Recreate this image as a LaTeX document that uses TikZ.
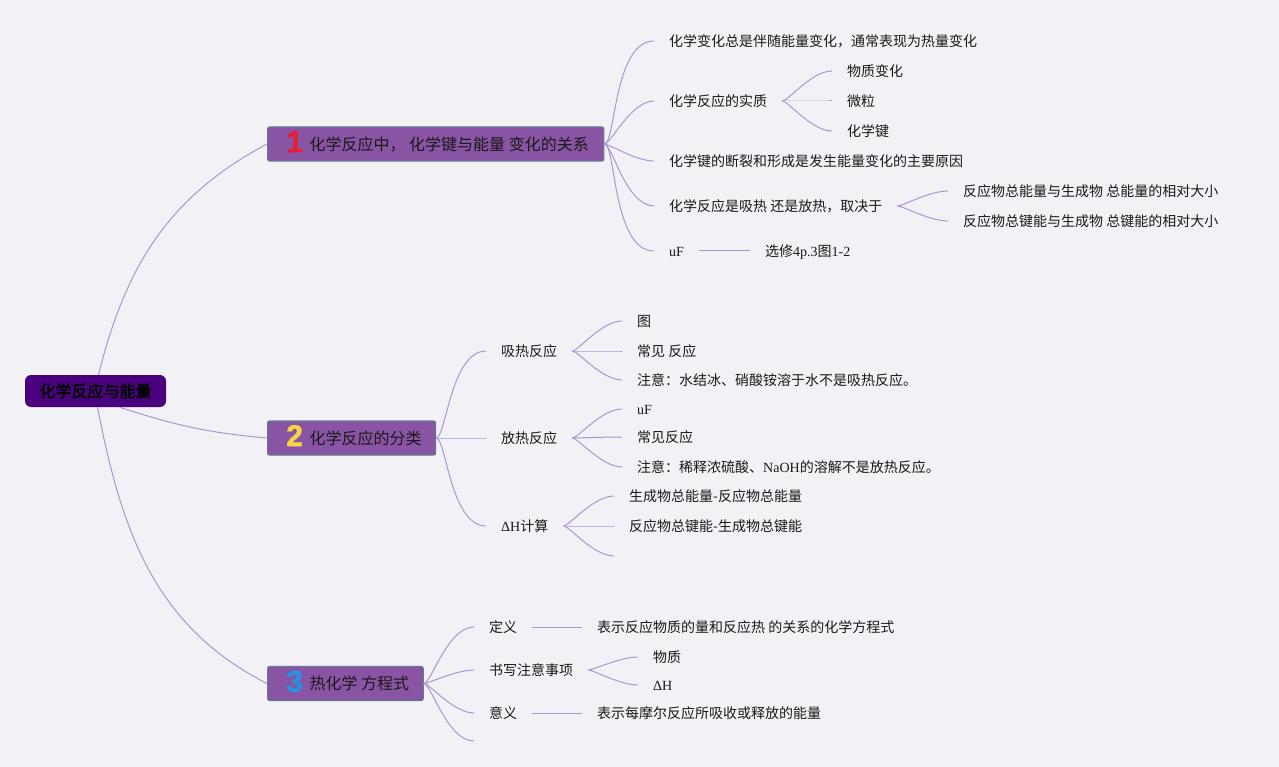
\documentclass[tikz,border=0pt]{standalone}
\usepackage{xcolor}
\usepackage{fontspec}
\setmainfont{Noto Sans CJK SC}[AutoFakeBold=2.5]
\newfontfamily\serifen{Liberation Serif}
\newfontfamily\numfont{Liberation Sans}[FakeBold=1.5]
\usepackage{tikz}

\definecolor{bgC}{RGB}{242,241,245}
\definecolor{rootC}{RGB}{75,0,125}
\definecolor{branchC}{RGB}{137,84,164}
\definecolor{borderC}{RGB}{105,118,145}
\definecolor{lineC}{RGB}{172,150,208}
\definecolor{txtC}{RGB}{25,25,25}
\definecolor{oneC}{RGB}{230,30,55}
\definecolor{twoC}{RGB}{245,215,70}
\definecolor{threeC}{RGB}{40,145,225}

\newcommand{\bnum}[2]{\hspace*{19pt}\makebox[16pt][c]{\raisebox{-2pt}{\numfont\bfseries\fontsize{30}{30}\selectfont\color{#1}#2}}\hspace*{7pt}}

\begin{document}
\begin{tikzpicture}[
      x=1pt, y=1pt,
      root/.style={rectangle, rounded corners=6pt, fill=rootC, minimum width=141pt, minimum height=32pt, inner sep=0pt, font=\fontsize{16}{18}\selectfont\bfseries, text=black, text height=13pt, text depth=0.8pt},
      branch/.style={rectangle, rounded corners=2pt, draw=borderC, line width=1.2pt, fill=branchC, minimum height=34pt, inner sep=0pt, anchor=west, font=\fontsize{16}{18}\selectfont, text=txtC, text height=13pt, text depth=0.8pt},
      leaf/.style={anchor=west, inner xsep=15pt, inner ysep=0pt, font=\fontsize{14}{16}\selectfont, text=txtC, text height=11.8pt, text depth=1.2pt},
      trunk/.style={draw=lineC, line width=1pt},
      link/.style={draw=lineC, line width=1pt, out=0, in=180, out looseness=0.25, in looseness=0.9}
    ]
      \useasboundingbox (0,0) rectangle (1279,-767);
      \fill[bgC] (0,0) rectangle (1279,-767);

      \node[root] (root) at (95.5,-391) {化学反应与能量};
      \node[branch] (rel) at (267,-144) {\bnum{oneC}{1}化学反应中， 化学键与能量 变化的关系\hspace*{15pt}};
      \node[branch] (cls) at (267,-438) {\bnum{twoC}{2}化学反应的分类\hspace*{14pt}};
      \node[branch] (eqn) at (267,-683.5) {\bnum{threeC}{3}热化学 方程式\hspace*{14pt}};

      % 1 化学反应中的能量关系
      \node[leaf] (always) at (654,-41) {化学变化总是伴随能量变化，通常表现为热量变化};
      \node[leaf] (essence) at (654,-101) {化学反应的实质};
      \node[leaf] (matter) at (832,-71) {物质变化};
      \node[leaf] (particle) at (832,-101) {微粒};
      \node[leaf] (bond) at (832,-131) {化学键};
      \node[leaf] (cause) at (654,-161) {化学键的断裂和形成是发生能量变化的主要原因};
      \node[leaf] (depend) at (654,-206) {化学反应是吸热 还是放热，取决于};
      \node[leaf] (etot) at (948,-191) {反应物总能量与生成物 总能量的相对大小};
      \node[leaf] (btot) at (948,-221) {反应物总键能与生成物 总键能的相对大小};
      \node[leaf] (uf1) at (654,-251) {\serifen uF};
      \node[leaf] (fig) at (750,-251) {选修{\serifen 4p.3}图{\serifen 1-2}};

      % 2 分类
      \node[leaf] (endo) at (486,-351) {吸热反应};
      \node[leaf] (endofig) at (622,-321) {图};
      \node[leaf] (endocom) at (622,-351) {常见 反应};
      \node[leaf] (endonote) at (622,-380) {注意：水结冰、硝酸铵溶于水不是吸热反应。};
      \node[leaf] (exo) at (486,-438) {放热反应};
      \node[leaf] (uf2) at (622,-409) {\serifen uF};
      \node[leaf] (exocom) at (622,-437) {常见反应};
      \node[leaf] (exonote) at (622,-467) {注意：稀释浓硫酸、{\serifen NaOH}的溶解不是放热反应。};
      \node[leaf] (dh) at (486,-526) {{\serifen ΔH}计算};
      \node[leaf] (dhe) at (614,-496) {生成物总能量-反应物总能量};
      \node[leaf] (dhb) at (614,-526) {反应物总键能-生成物总键能};
      \coordinate (dhx) at (614,-556);

      % 3 热化学方程式
      \node[leaf] (def) at (474,-627) {定义};
      \node[leaf] (deftxt) at (582,-627) {表示反应物质的量和反应热 的关系的化学方程式};
      \node[leaf] (write) at (474,-670) {书写注意事项};
      \node[leaf] (state) at (638,-657) {物质};
      \node[leaf] (wdh) at (638,-685) {\serifen ΔH};
      \node[leaf] (mean) at (474,-713) {意义};
      \node[leaf] (meantxt) at (582,-713) {表示每摩尔反应所吸收或释放的能量};
      \coordinate (eqnx) at (474,-741);

      \draw[trunk] ([xshift=3pt]root.north) to[out=76, in=208] (rel.west);
      \draw[trunk] ([xshift=24pt]root.south) to[out=-18, in=175] (cls.west);
      \draw[trunk] ([xshift=2pt]root.south) to[out=-79, in=153] (eqn.west);

      \draw[link] (rel.east) to (always.west);
      \draw[link] (rel.east) to (essence.west);
      \draw[link] (rel.east) to (cause.west);
      \draw[link] (rel.east) to (depend.west);
      \draw[link] (rel.east) to (uf1.west);
      \draw[link] (essence.east) to (matter.west);
      \draw[link] (essence.east) to (particle.west);
      \draw[link] (essence.east) to (bond.west);
      \draw[link] (depend.east) to (etot.west);
      \draw[link] (depend.east) to (btot.west);
      \draw[link] (uf1.east) -- (fig.west);

      \draw[link] (cls.east) to (endo.west);
      \draw[link] (cls.east) to (exo.west);
      \draw[link] (cls.east) to (dh.west);
      \draw[link] (endo.east) to (endofig.west);
      \draw[link] (endo.east) to (endocom.west);
      \draw[link] (endo.east) to (endonote.west);
      \draw[link] (exo.east) to (uf2.west);
      \draw[link] (exo.east) to (exocom.west);
      \draw[link] (exo.east) to (exonote.west);
      \draw[link] (dh.east) to (dhe.west);
      \draw[link] (dh.east) to (dhb.west);
      \draw[link] (dh.east) to (dhx);

      \draw[link] (eqn.east) to (def.west);
      \draw[link] (eqn.east) to (write.west);
      \draw[link] (eqn.east) to (mean.west);
      \draw[link] (eqn.east) to (eqnx);
      \draw[link] (def.east) -- (deftxt.west);
      \draw[link] (write.east) to (state.west);
      \draw[link] (write.east) to (wdh.west);
      \draw[link] (mean.east) -- (meantxt.west);
    \end{tikzpicture}
\end{document}
